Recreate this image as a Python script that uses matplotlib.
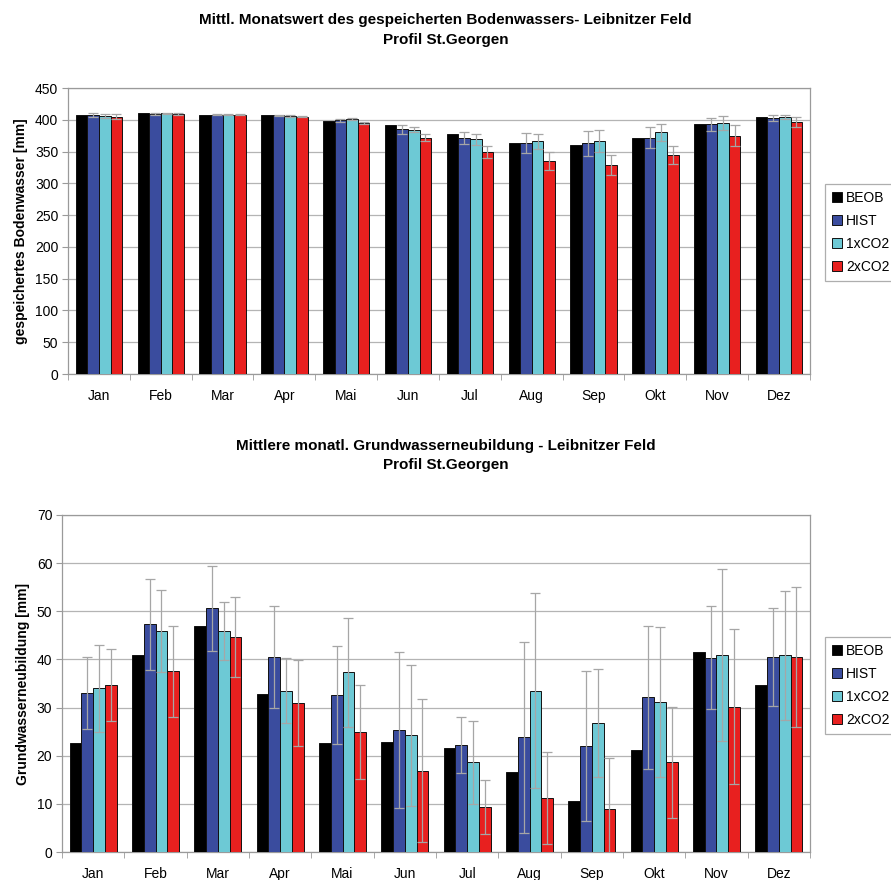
import matplotlib
matplotlib.use("Agg")
import matplotlib.pyplot as plt
import numpy as np
from matplotlib.font_manager import fontManager

# Monatsnamen und Serien
months = ["Jan", "Feb", "Mar", "Apr", "Mai", "Jun",
          "Jul", "Aug", "Sep", "Okt", "Nov", "Dez"]
series = ["BEOB", "HIST", "1xCO2", "2xCO2"]

# gespeichertes Bodenwasser [mm]
soil_beob = [407, 410, 408, 407, 398, 391, 377, 363, 361, 372, 394, 405]
soil_hist = [407, 409, 408, 407, 399, 385, 371, 363, 363, 372, 393, 403]
soil_1x = [406, 410, 408, 406, 401, 384, 369, 366, 367, 380, 395, 405]
soil_2x = [405, 409, 408, 405, 395, 372, 349, 335, 329, 345, 375, 396]
soil_hist_err = [3, 1, 1, 1, 2, 7, 9, 16, 20, 17, 10, 5]
soil_1x_err = [3, 1, 1, 1, 2, 4, 8, 12, 17, 14, 11, 3]
soil_2x_err = [4, 1, 1, 1, 2, 5, 9, 14, 16, 14, 16, 8]

# Grundwasserneubildung [mm]
gw_beob = [22.6, 40.9, 47.0, 32.8, 22.6, 22.8, 21.6, 16.6, 10.5, 21.2, 41.6, 34.7]
gw_hist = [33.1, 47.3, 50.6, 40.5, 32.6, 25.4, 22.3, 23.8, 22.1, 32.1, 40.4, 40.5]
gw_1x = [34.0, 45.9, 45.9, 33.5, 37.3, 24.2, 18.6, 33.5, 26.8, 31.1, 40.9, 40.9]
gw_2x = [34.7, 37.5, 44.7, 30.9, 24.9, 16.9, 9.3, 11.2, 8.9, 18.6, 30.2, 40.5]
gw_hist_err = [7.5, 9.5, 8.8, 10.5, 10.2, 16.2, 5.8, 19.8, 15.6, 14.9, 10.8, 10.1]
gw_1x_err = [9.0, 8.5, 6.0, 6.7, 11.4, 14.7, 8.7, 20.2, 11.2, 15.6, 17.9, 13.4]
gw_2x_err = [7.4, 9.5, 8.3, 8.9, 9.8, 14.9, 5.6, 9.5, 10.7, 11.5, 16.1, 14.6]

COLORS = ["#000000", "#3a4c9e", "#6dc9d5", "#e8201f"]
GRID = "#b4b4b4"
SPINE = "#9a9a9a"
ERR = "#a6a6a6"

installed = {f.name for f in fontManager.ttflist}
NARROW = ["Liberation Sans Narrow", "Liberation Sans", "DejaVu Sans"]
if "Liberation Sans Narrow" not in installed:
    NARROW = ["Liberation Sans", "DejaVu Sans"]
plt.rcParams["font.family"] = ["Liberation Sans", "DejaVu Sans"]

W, H = 891, 880
fig = plt.figure(figsize=(W / 100, H / 100), dpi=100)
fig.patch.set_facecolor("white")


def px_axes(left, top, right, bottom):
    return fig.add_axes([left / W, 1 - bottom / H,
                         (right - left) / W, (bottom - top) / H])


def draw_panel(ax, values, errors, ymax, ystep, ylabel):
    x = np.arange(len(months))
    width = 0.1875
    for i, (vals, err) in enumerate(zip(values, errors)):
        pos = x + (i - 1.5) * width
        ax.bar(pos, vals, width, color=COLORS[i], edgecolor="#111111",
               linewidth=0.7, label=series[i], zorder=3)
        if err is not None:
            ax.errorbar(pos, vals, yerr=err, fmt="none", ecolor=ERR,
                        elinewidth=0.9, capsize=3.8, capthick=0.9, zorder=4)

    ax.set_xlim(-0.5, len(months) - 0.5)
    ax.set_ylim(0, ymax)
    ax.set_yticks(np.arange(0, ymax + ystep, ystep))
    ax.yaxis.grid(True, color=GRID, linewidth=0.9, zorder=0)
    ax.set_axisbelow(True)

    ax.set_xticks(x)
    ax.set_xticklabels(months, fontsize=10)
    ax.set_xticks(np.arange(-0.5, len(months) + 0.5, 1), minor=True)
    ax.tick_params(axis="x", which="major", length=0, pad=11)
    ax.tick_params(axis="x", which="minor", length=4, color=SPINE,
                   direction="out")
    ax.tick_params(axis="y", length=4, color=SPINE, labelsize=10, pad=3)
    for s in ax.spines.values():
        s.set_color(SPINE)
        s.set_linewidth(0.9)

    ax.set_ylabel(ylabel, fontsize=10, fontweight="bold", labelpad=5)


# ── oberes Diagramm: Bodenwasser ─────────────
ax1 = px_axes(68, 88, 810, 374)
draw_panel(ax1,
           [soil_beob, soil_hist, soil_1x, soil_2x],
           [None, soil_hist_err, soil_1x_err, soil_2x_err],
           450, 50, "gespeichertes Bodenwasser [mm]")

# ── unteres Diagramm: Grundwasserneubildung ──
ax2 = px_axes(62, 515, 810, 852)
draw_panel(ax2,
           [gw_beob, gw_hist, gw_1x, gw_2x],
           [None, gw_hist_err, gw_1x_err, gw_2x_err],
           70, 10, "Grundwasserneubildung [mm]")

title_kw = dict(ha="center", va="center", fontsize=11, fontweight="bold",
                family=NARROW)
fig.text(0.5, 1 - 20 / H,
         "Mittl. Monatswert des gespeicherten Bodenwassers- Leibnitzer Feld",
         **title_kw)
fig.text(0.5, 1 - 40 / H, "Profil St.Georgen", **title_kw)
fig.text(0.5, 1 - 446 / H,
         "Mittlere monatl. Grundwasserneubildung - Leibnitzer Feld",
         **title_kw)
fig.text(0.5, 1 - 465 / H, "Profil St.Georgen", **title_kw)

for ax, top in [(ax1, 184), (ax2, 637)]:
    leg = ax.legend(loc="upper left",
                    bbox_to_anchor=(825 / W, 1 - top / H),
                    bbox_transform=fig.transFigure,
                    fontsize=10, frameon=True, fancybox=False,
                    handlelength=0.7, handleheight=0.7, handletextpad=0.3,
                    labelspacing=0.65, borderpad=0.5, borderaxespad=0)
    leg.get_frame().set_edgecolor(SPINE)
    leg.get_frame().set_linewidth(0.9)

fig.savefig("out.png", dpi=100, facecolor="white")
